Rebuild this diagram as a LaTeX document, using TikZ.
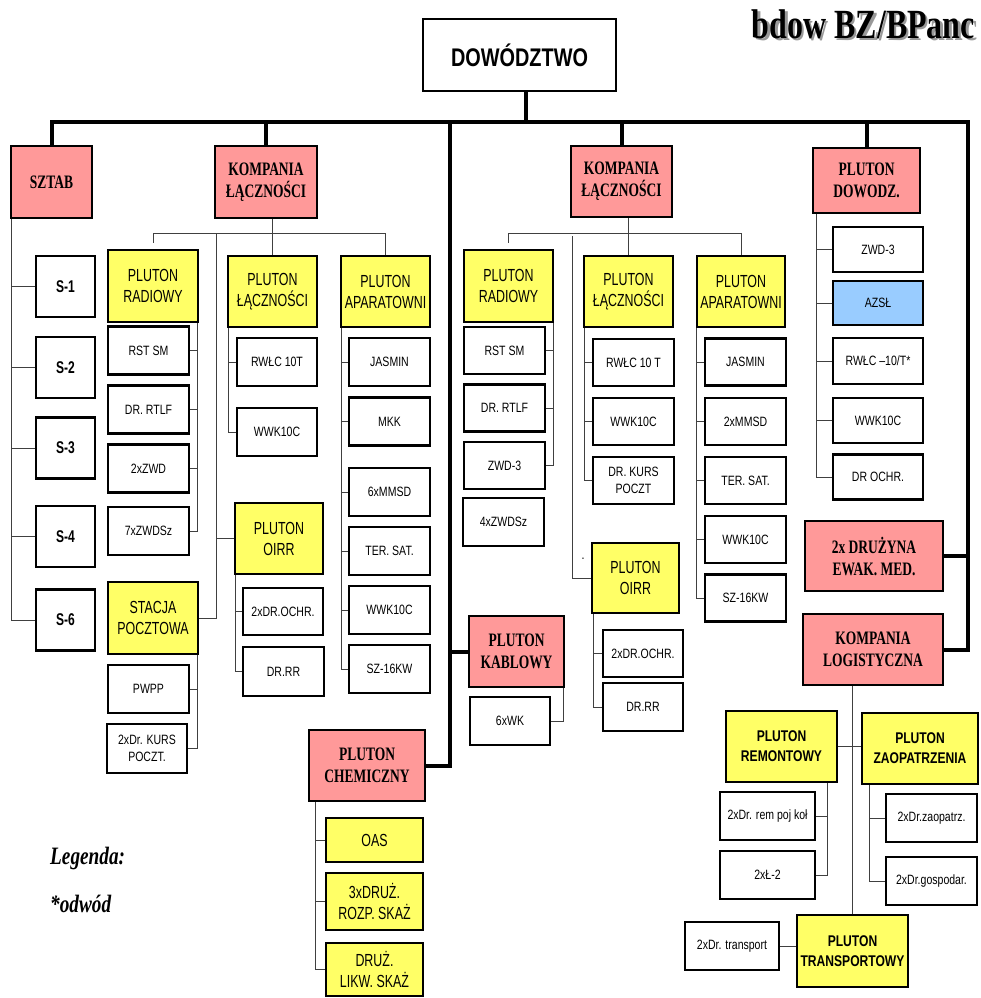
\documentclass[tikz,border=0pt]{standalone}
\usepackage{fontspec}
\setmainfont{Liberation Serif}
\newfontfamily\cond[FakeStretch=0.71]{Liberation Sans}
\newfontfamily\semicond[FakeStretch=0.78]{Liberation Sans}
\newfontfamily\condser[FakeStretch=0.71]{Liberation Serif}
\newfontfamily\titleser[FakeStretch=0.77]{Liberation Serif}
\usetikzlibrary{positioning,calc,backgrounds}
\definecolor{orgred}{HTML}{FF9999}
\definecolor{orgyel}{HTML}{FFFF66}
\definecolor{orgblue}{HTML}{99CCFF}
\newcommand{\shadowed}[1]{\makebox[0pt][l]{\hspace{2.5pt}\raisebox{-2.5pt}{\color{black!40}#1}}#1}
\tikzset{
  unit/.style={rectangle,draw=black,line width=2.4pt,fill=orgred,align=center,inner sep=1pt,
               font=\condser\bfseries\fontsize{19}{22}\selectfont},
  plat/.style={rectangle,draw=black,line width=2.4pt,fill=orgyel,align=center,inner sep=1pt,
               font=\cond\fontsize{17.5}{21}\selectfont},
  item/.style={rectangle,draw=black,line width=2.4pt,fill=white,align=center,inner sep=1pt,
               font=\semicond\fontsize{13.5}{17}\selectfont},
  sbox/.style={item,font=\cond\bfseries\fontsize{17}{20}\selectfont},
  logi/.style={plat,font=\semicond\bfseries\fontsize{15.5}{20}\selectfont},
  topbox/.style={item,line width=2pt,font=\semicond\bfseries\fontsize{25.5}{30}\selectfont},
  ttl/.style={inner sep=0pt,font=\titleser\bfseries\fontsize{41.5}{44}\selectfont},
  legend/.style={inner sep=0pt,font=\titleser\bfseries\itshape\fontsize{25}{28}\selectfont},
  bus/.style={line width=4pt,draw=black},
  tie/.style={line width=1pt,draw=black!75},
  bx/.style 2 args={minimum width=#1,minimum height=#2},
}
\begin{document}
\begin{tikzpicture}[x=1pt,y=-1pt]
  \useasboundingbox (0,0) rectangle (980,998);
  % title and legend
  \node[ttl,anchor=base east] (ttlmain) at (975,38) {\shadowed{bdow BZ/BPanc}};
  \node[legend,anchor=base west] (leg) at (50,864) {Legenda:};
  \node[legend,anchor=base west] (odw) at (50,912) {*odwód};
  % command level
  \node[topbox,bx={193}{72}] (dow) at (519.5,55) {DOWÓDZTWO};
  \node[unit,bx={81}{72}] (sztab) at (51.5,182) {SZTAB};
  \node[unit,bx={102}{72}] (kl1) at (266,182) {KOMPANIA\\ŁĄCZNOŚCI};
  \node[unit,bx={101}{71}] (kl2) at (621.5,181.5) {KOMPANIA\\ŁĄCZNOŚCI};
  \node[unit,bx={107}{65}] (pdow) at (866.5,180.5) {PLUTON\\DOWODZ.};
  \node[unit,bx={138}{70}] (ewak) at (874,556) {2x DRUŻYNA\\EWAK. MED.};
  \node[unit,bx={140}{71}] (klog) at (873,649.5) {KOMPANIA\\LOGISTYCZNA};
  \node[unit,bx={95}{71}] (kab) at (516.5,651.5) {PLUTON\\KABLOWY};
  \node[unit,bx={116}{71}] (chem) at (367,765.5) {PLUTON\\CHEMICZNY};
  % staff cells
  \foreach \n/\y in {1/286.5,2/367.5,3/448,4/536.5,6/620}
    \node[sbox,bx={59}{61}] (s\n) at (65.5,\y) {S-\n};
  % left signal company
  \node[plat,bx={90}{72}] (prad1) at (153,286) {PLUTON\\RADIOWY};
  \node[plat,bx={89}{71}] (plac1) at (272.5,291.5) {PLUTON\\ŁĄCZNOŚCI};
  \node[plat,bx={89}{71}] (papar1) at (385.5,291.5) {PLUTON\\APARATOWNI};
  \node[plat,bx={90}{72}] (stacja) at (153,618) {STACJA\\POCZTOWA};
  \node[plat,bx={88}{71}] (oirr1) at (279,538.5) {PLUTON\\OIRR};
  \foreach \n/\y/\t in {rst1/350.5/RST SM,rtlf1/409.5/DR. RTLF,zwd1/468.5/2xZWD,zwds1/531/7xZWDSz}
    \node[item,bx={81}{48}] (\n) at (148.5,\y) {\t};
  \node[item,bx={81}{48}] (pwpp) at (148.5,689) {PWPP};
  \node[item,bx={80}{49}] (kurs1) at (147,748.5) {2xDr. KURS\\POCZT.};
  \node[item,bx={80}{48}] (rwlc1) at (277,362) {RWŁC 10T};
  \node[item,bx={80}{48}] (wwk1) at (277,432) {WWK10C};
  \node[item,bx={80}{47}] (ochr1) at (283,611.5) {2xDR.OCHR.};
  \node[item,bx={81}{49}] (rr1) at (283.5,671.5) {DR.RR};
  \foreach \n/\y/\t in {jas1/362/JASMIN,mkk1/421.5/MKK,mmsd1/492/6xMMSD,ter1/551/TER. SAT.,wwka1/610/WWK10C,sz1/669/SZ-16KW}
    \node[item,bx={81}{48}] (\n) at (389.5,\y) {\t};
  % right signal company
  \node[plat,bx={89}{72}] (prad2) at (508.5,286) {PLUTON\\RADIOWY};
  \node[plat,bx={89}{71}] (plac2) at (628.5,291.5) {PLUTON\\ŁĄCZNOŚCI};
  \node[plat,bx={88}{71}] (papar2) at (741,291.5) {PLUTON\\APARATOWNI};
  \node[plat,bx={87}{70}] (oirr2) at (635.5,578) {PLUTON\\OIRR};
  \foreach \n/\y/\t in {rst2/350.5/RST SM,rtlf2/408/DR. RTLF,zwd32/465.5/ZWD-3}
    \node[item,bx={81}{47}] (\n) at (504.5,\y) {\t};
  \node[item,bx={81}{48}] (zwds2) at (503.5,522) {4xZWDSz};
  \node[item,bx={81}{47}] (rwlc2) at (633.5,362.5) {RWŁC 10 T};
  \node[item,bx={81}{47}] (wwk2) at (633.5,421.5) {WWK10C};
  \node[item,bx={81}{47}] (kurs2) at (633.5,480.5) {DR. KURS\\POCZT};
  \node[item,bx={80}{47}] (ochr2) at (643,653.5) {2xDR.OCHR.};
  \node[item,bx={80}{48}] (rr2) at (643,707) {DR.RR};
  \node[inner sep=0pt,font=\semicond\fontsize{13.5}{17}\selectfont] (dot) at (583,559) {.};
  \foreach \n/\y/\t in {jas2/362/JASMIN,mmsd2/421.5/2xMMSD,ter2/480.5/TER. SAT.,wwk3/539.5/WWK10C,sz2/598/SZ-16KW}
    \node[item,bx={81}{47}] (\n) at (745.5,\y) {\t};
  % command platoon
  \foreach \n/\y/\t in {zwd3/249.5/ZWD-3,wwk4/420.5/WWK10C,ochr3/477/DR OCHR.}
    \node[item,bx={90}{45}] (\n) at (878,\y) {\t};
  \node[item,bx={90}{46}] (rwlc3) at (878,361) {RWŁC –10/T*};
  \node[item,fill=orgblue,bx={90}{44}] (azsl) at (878,303) {AZSŁ};
  % cable and chemical platoons
  \node[item,bx={80}{48}] (wk6) at (510,721) {6xWK};
  \node[plat,bx={97}{44}] (oas) at (374.5,840) {OAS};
  \node[plat,bx={97}{57}] (rozp) at (374.5,901.5) {3xDRUŻ.\\ROZP. SKAŻ};
  \node[plat,bx={97}{53}] (likw) at (374.5,969.5) {DRUŻ.\\LIKW. SKAŻ};
  % logistics company
  \node[logi,bx={111}{71}] (prem) at (781.5,746.5) {PLUTON\\REMONTOWY};
  \node[logi,bx={116}{71}] (pzao) at (920,748.5) {PLUTON\\ZAOPATRZENIA};
  \node[logi,bx={111}{72}] (ptra) at (852.5,951) {PLUTON\\TRANSPORTOWY};
  \node[item,bx={95}{48}] (rem1) at (767.5,816) {2xDr. rem poj koł};
  \node[item,bx={95}{48}] (l2) at (767.5,875) {2xŁ-2};
  \node[item,bx={91}{48}] (zao1) at (931.5,818) {2xDr.zaopatrz.};
  \node[item,bx={91}{48}] (gosp) at (931.5,881) {2xDr.gospodar.};
  \node[item,bx={94}{48}] (dtra) at (732,946) {2xDr. transport};
  % connectors
  \begin{scope}[on background layer]
    \coordinate (busR) at (968,122);
    \coordinate (spine) at ($(kab.west)+(-18,0)$);
    \draw[bus] (sztab.north) |- (busR) |- (klog.east);
    \draw[bus] (busR |- ewak.east) -- (ewak.east);
    \draw[bus] ([xshift=6.5pt]dow.south) -- ([xshift=6.5pt]dow.south |- busR);
    \foreach \n in {kl1,kl2,pdow} \draw[bus] (\n.north |- busR) -- (\n.north);
    \draw[bus] (spine |- busR) |- (chem.east);
    \draw[bus] (spine) -- (kab.west);
    \foreach \n in {s1,s2,s3,s4,s6} \draw[tie] ([xshift=1.5pt]sztab.south west) |- (\n.west);
    % left company
    \coordinate (k1bar) at ($(kl1.south)+(0,14)$);
    \coordinate (k1s) at ($(stacja.east)+(17,0)$);
    \draw[tie] (kl1.south -| plac1.north) -- (plac1.north);
    \draw[tie] ([yshift=6pt]prad1.north) |- (k1bar -| papar1.north) -- (papar1.north);
    \draw[tie] (k1bar -| k1s) |- (stacja.east);
    \draw[tie] (k1s |- oirr1.west) -- (oirr1.west);
    \foreach \n in {rst1,rtlf1,zwd1,zwds1} \draw[tie] ([xshift=-1.5pt]prad1.south east) |- (\n.east);
    \foreach \n in {pwpp,kurs1} \draw[tie] ([xshift=-1.5pt]stacja.south east) |- (\n.east);
    \foreach \n in {rwlc1,wwk1} \draw[tie] ([xshift=1.5pt]plac1.south west) |- (\n.west);
    \foreach \n in {ochr1,rr1} \draw[tie] ([xshift=1.5pt]oirr1.south west) |- (\n.west);
    \foreach \n in {jas1,mkk1,mmsd1,ter1,wwka1,sz1} \draw[tie] ([xshift=1.5pt]papar1.south west) |- (\n.west);
    % right company
    \coordinate (k2bar) at ($(kl2.south)+(0,15)$);
    \coordinate (k2s) at ($(oirr2.west)+(-18,0)$);
    \draw[tie] (kl2.south -| plac2.north) -- (plac2.north);
    \draw[tie] ([yshift=6pt]prad2.north) |- (k2bar -| papar2.north) -- (papar2.north);
    \draw[tie] ([yshift=-3pt]k2bar -| k2s) |- (oirr2.west);
    \foreach \n in {rst2,rtlf2,zwd32} \draw[tie] ([xshift=-0.5pt]prad2.south east) |- (\n.east);
    \foreach \n in {rwlc2,wwk2,kurs2} \draw[tie] ([xshift=2pt]plac2.south west) |- (\n.west);
    \foreach \n in {ochr2,rr2} \draw[tie] ([xshift=3pt]oirr2.south west) |- (\n.west);
    \foreach \n in {jas2,mmsd2,ter2,wwk3,sz2} \draw[tie] ([xshift=0.5pt]papar2.south west) |- (\n.west);
    % command platoon
    \foreach \n in {zwd3,azsl,rwlc3,wwk4,ochr3} \draw[tie] ([xshift=5pt]pdow.south west) |- (\n.west);
    % cable, chemical
    \draw[tie] ([xshift=-1.5pt]kab.south east) |- (wk6.east);
    \foreach \n in {oas,rozp,likw} \draw[tie] ([xshift=8pt]chem.south west) |- (\n.west);
    % logistics
    \draw[tie] (klog.south -| ptra.north) -- (ptra.north);
    \draw[tie] (prem.east) -- (prem.east -| pzao.west);
    \draw[tie] (dtra.east) -- (dtra.east -| ptra.west);
    \foreach \n in {rem1,l2} \draw[tie] ([xshift=-11pt]prem.south east) |- (\n.east);
    \foreach \n in {zao1,gosp} \draw[tie] ([xshift=9pt]pzao.south west) |- (\n.west);
  \end{scope}
\end{tikzpicture}
\end{document}
